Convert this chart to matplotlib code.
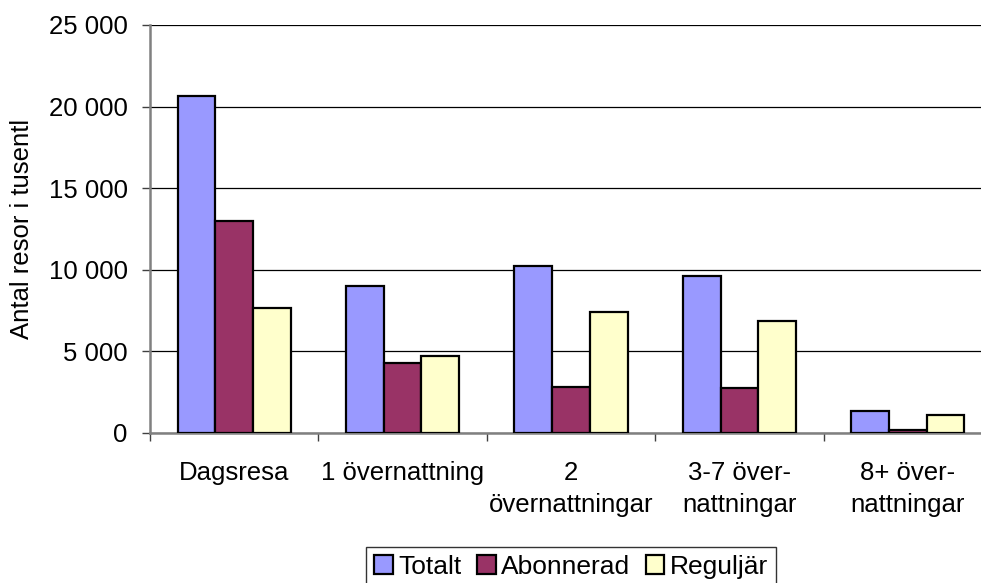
import matplotlib
matplotlib.use('Agg')
import matplotlib.pyplot as plt
import numpy as np

# ── DATA (antal resor i tusental) ─────────────────────────────
categories = ["Dagsresa", "1 övernattning", "2\növernattningar",
              "3-7 över-\nnattningar", "8+ över-\nnattningar"]
series_names = ["Totalt", "Abonnerad", "Reguljär"]
totalt    = [20650, 9020, 10250, 9620, 1330]
abonnerad = [13000, 4260, 2790, 2760, 200]
reguljar  = [7630, 4730, 7430, 6840, 1120]
y_ticks = [0, 5000, 10000, 15000, 20000, 25000]

COLORS = ['#9999FF', '#993366', '#FFFFCC']
FS = 18.5

plt.rcParams['font.family'] = ['Liberation Sans', 'DejaVu Sans']

fig = plt.figure(figsize=(9.81, 5.83), dpi=100)
ax = fig.add_axes([150/981, 1 - 433/583, 842/981, 408/583])

x = np.arange(len(categories))
w = 0.224
for i, (vals, name) in enumerate(zip([totalt, abonnerad, reguljar], series_names)):
    ax.bar(x + (i - 1) * w, vals, width=w, color=COLORS[i], edgecolor='black',
           linewidth=1.6, label=name, zorder=3)

ax.set_xlim(-0.5, len(categories) - 0.5)
ax.set_ylim(0, 25000)
ax.set_yticks(y_ticks)
ax.set_yticklabels([f"{v:,}".replace(",", " ") for v in y_ticks], fontsize=FS)
ax.set_xticks(x)
ax.set_xticklabels(categories, fontsize=FS, linespacing=1.45)
ax.set_xticks(np.arange(len(categories) + 1) - 0.5, minor=True)
ax.tick_params(axis='x', which='major', length=0, pad=20)
ax.tick_params(axis='x', which='minor', length=6, width=1, color='#404040')
ax.tick_params(axis='y', length=6, width=1, color='#404040', pad=10)
ax.yaxis.grid(True, color='black', linewidth=0.9, zorder=0)
ax.set_axisbelow(True)

for s in ['top', 'right']:
    ax.spines[s].set_visible(False)
ax.spines['left'].set_color('#808080')
ax.spines['left'].set_linewidth(1.8)
ax.spines['bottom'].set_color('#808080')
ax.spines['bottom'].set_linewidth(1.8)

fig.text(22/981, 1 - 229/583, "Antal resor i tusentl", rotation=90,
         ha='center', va='center', fontsize=FS)

leg = fig.legend(loc='upper center', bbox_to_anchor=(571/981, 1 - 547/583),
                 ncol=3, fontsize=19, frameon=True, fancybox=False,
                 edgecolor='black', borderaxespad=0, handlelength=0.7,
                 handleheight=0.7, handletextpad=0.2, columnspacing=0.6,
                 borderpad=0.3)
leg.get_frame().set_linewidth(1.0)

plt.savefig("out.png", dpi=100)
